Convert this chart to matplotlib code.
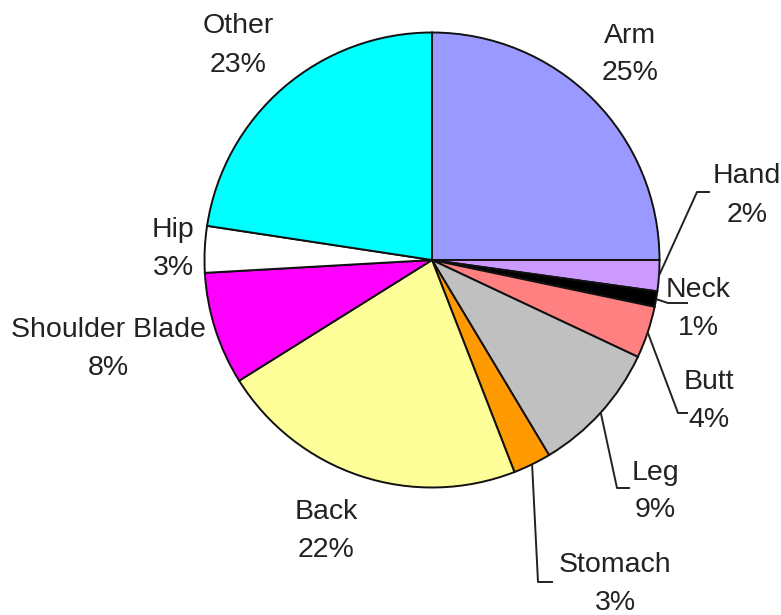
import matplotlib
matplotlib.use('Agg')
import matplotlib.pyplot as plt
import numpy as np

# ---- data ----
categories = ['Arm', 'Hand', 'Neck', 'Butt', 'Leg', 'Stomach', 'Back',
              'Shoulder Blade', 'Hip', 'Other']
values = [25.0, 2.2, 1.1, 3.7, 9.4, 2.7, 22.0, 8.0, 3.3, 22.6]
pct_labels = ['25%', '2%', '1%', '4%', '9%', '3%', '22%', '8%', '3%', '23%']
colors = ['#9999FF', '#CC99FF', '#000000', '#FF8080', '#C0C0C0',
          '#FF9900', '#FFFF99', '#FF00FF', '#FFFFFF', '#00FFFF']

# ---- layout (pixels) ----
W, H = 781, 615
CX, CY, R = 432, 260, 227.5

# label: x-center, baseline of name, baseline of percentage
label_pos = {
    'Arm': (630, 43, 80),
    'Hand': (747, 183, 222),
    'Neck': (698, 297, 335),
    'Butt': (709, 389, 427),
    'Leg': (655, 480, 517),
    'Stomach': (615, 572, 610),
    'Back': (326, 519, 557),
    'Shoulder Blade': (108, 337, 375),
    'Hip': (173, 237, 275),
    'Other': (238, 33, 72),
}
# leader line elbows (pixels)
leaders = {
    'Hand': [(697, 192), (710, 192)],
    'Neck': [(668, 303), (688, 303)],
    'Butt': [(678, 413), (688, 413)],
    'Leg': [(617, 488), (630, 488)],
    'Stomach': [(538, 582), (553, 582)],
}


def px(x, y):
    return ((x - CX) / R, (CY - y) / R)


fig = plt.figure(figsize=(W / 100, H / 100), dpi=100)
ax = fig.add_axes([0, 0, 1, 1])

wedges, _ = ax.pie(values, colors=colors, startangle=90, counterclock=False,
                   radius=1.0, center=(0, 0),
                   wedgeprops=dict(edgecolor='#111111', linewidth=1.4))

ax.set_xlim(-CX / R, (W - CX) / R)
ax.set_ylim(-(H - CY) / R, CY / R)
ax.set_aspect('auto')
ax.axis('off')

font = dict(fontsize=20.5, family=['Liberation Sans', 'DejaVu Sans'],
            color='#222222', ha='center', va='baseline')

for name, pct, w in zip(categories, pct_labels, wedges):
    x, b1, b2 = label_pos[name]
    ax.text(*px(x, b1), name, **font)
    ax.text(*px(x, b2), pct, **font)
    if name in leaders:
        mid = np.deg2rad((w.theta1 + w.theta2) / 2)
        pts = [(np.cos(mid), np.sin(mid))] + [px(a, b) for a, b in leaders[name]]
        xs, ys = zip(*pts)
        ax.plot(xs, ys, color='#222222', lw=1.4, solid_capstyle='butt')

fig.savefig('out.png', dpi=100)
